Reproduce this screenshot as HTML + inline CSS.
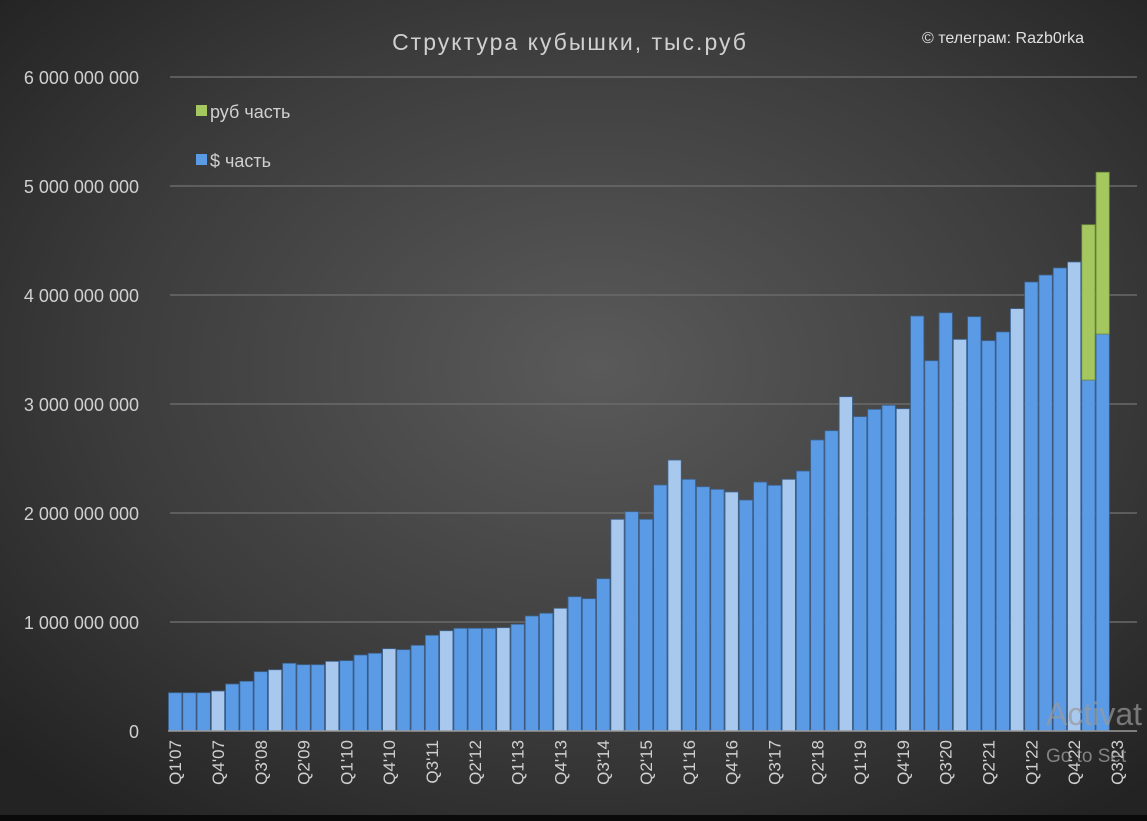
<!DOCTYPE html>
<html><head><meta charset="utf-8"><style>
html,body{margin:0;padding:0;}
body{width:1147px;height:821px;overflow:hidden;background:#111;font-family:"Liberation Sans","DejaVu Sans",sans-serif;}
svg{display:block}
</style></head><body>
<svg id="chart" width="1147" height="821" xmlns="http://www.w3.org/2000/svg">
<defs>
<radialGradient id="bg" cx="0.52" cy="0.45" r="0.7">
<stop offset="0" stop-color="#5a5a5a"/><stop offset="0.6" stop-color="#3c3c3c"/><stop offset="1" stop-color="#232323"/>
</radialGradient>
</defs>
<rect x="0" y="0" width="1147" height="815" fill="url(#bg)"/>
<rect x="0" y="815" width="1147" height="6" fill="#0a0a0a"/>
<text x="570" y="50" text-anchor="middle" fill="#d0d0d0" font-size="23" letter-spacing="2">Структура кубышки, тыс.руб</text>
<text x="1003" y="43" text-anchor="middle" fill="#e0e0e0" font-size="16">© телеграм: Razb0rka</text>
<g id="grid"></g><g id="bars"></g><g id="axes"></g>
<g>
<rect x="196" y="105" width="11" height="11" fill="#a5c760"/>
<text x="210" y="118" fill="#d0d0d0" font-size="18">руб часть</text>
<rect x="196" y="154" width="11" height="11" fill="#5b9be6"/>
<text x="210" y="167" fill="#d0d0d0" font-size="18">$ часть</text>
</g>
<text x="1046" y="725" fill="#9a9a9a" fill-opacity="0.7" font-size="32">Activat</text>
<text x="1046" y="762" fill="#aaaaaa" fill-opacity="0.7" font-size="19">Go to Set</text>
</svg>
<script>
const usdPart=[351,351,351,367,431,456,544,562,621,608,608,639,645,697,713,755,746,786,878,920,942,942,942,948,979,1055,1080,1126,1232,1214,1397,1942,2012,1942,2257,2486,2309,2241,2217,2193,2119,2284,2254,2309,2385,2670,2755,3067,2884,2951,2988,2957,3807,3397,3837,3593,3801,3581,3661,3875,4119,4183,4248,4303,3220,3642,null];
const rubPart=[0,0,0,0,0,0,0,0,0,0,0,0,0,0,0,0,0,0,0,0,0,0,0,0,0,0,0,0,0,0,0,0,0,0,0,0,0,0,0,0,0,0,0,0,0,0,0,0,0,0,0,0,0,0,0,0,0,0,0,0,0,0,0,0,1425,1484,null];
const yTicks=[0,1000,2000,3000,4000,5000,6000];
const yTickLabels=["0","1 000 000 000","2 000 000 000","3 000 000 000","4 000 000 000","5 000 000 000","6 000 000 000"];
const categories=[];
for(let y=7;y<=23;y++){for(let q=1;q<=4;q++){if(y===23&&q>3)break;categories.push("Q"+q+"'"+String(y).padStart(2,"0"));}}
const NS="http://www.w3.org/2000/svg";
const x0=168,slot=14.27,y0=731,pxPerUnit=109/1000;
const xPos=i=>x0+i*slot;
const yPos=v=>y0-v*pxPerUnit;
function mk(tag,attrs,parent){const e=document.createElementNS(NS,tag);for(const k in attrs)e.setAttribute(k,attrs[k]);parent.appendChild(e);return e;}
const grid=document.getElementById('grid'),bars=document.getElementById('bars'),axes=document.getElementById('axes');
yTicks.forEach((t,i)=>{
 if(t>0){const l=mk('line',{x1:170,x2:1137,y1:yPos(t),y2:yPos(t),stroke:'#6a6a6a','stroke-width':1.5},grid);
 
 }
 const tx=mk('text',{x:139,y:yPos(t)+7,'text-anchor':'end',fill:'#d0d0d0','font-size':18},axes);
 tx.textContent=yTickLabels[i];
 
 
});
categories.forEach((c,i)=>{
 const u=usdPart[i];
 if(u!=null){
  const light=(i%4===3);
  const b=mk('rect',{x:xPos(i)+0.5,y:yPos(u),width:slot-1,height:y0-yPos(u),fill:light?'#a9c8ee':'#5b9be6',stroke:'#3d6592','stroke-width':0.8},bars);
  
  
  const r=rubPart[i];
  if(r){const g=mk('rect',{x:xPos(i)+0.5,y:yPos(u+r),width:slot-1,height:yPos(u)-yPos(u+r),fill:'#a5c760',stroke:'#6f8a3c','stroke-width':0.8},bars);
  
  }
 }
 if(i%3===0){
  const cx=xPos(i)+slot/2+6;
  const t=mk('text',{x:cx,y:740,transform:'rotate(-90 '+cx+' 740)','text-anchor':'end',fill:'#d0d0d0','font-size':17},axes);
  t.textContent=c;
  
  
 }
});
const ax=mk('line',{x1:168,x2:1137,y1:y0,y2:y0,stroke:'#9a9a9a','stroke-width':1.5},axes);


</script>
</body></html>
